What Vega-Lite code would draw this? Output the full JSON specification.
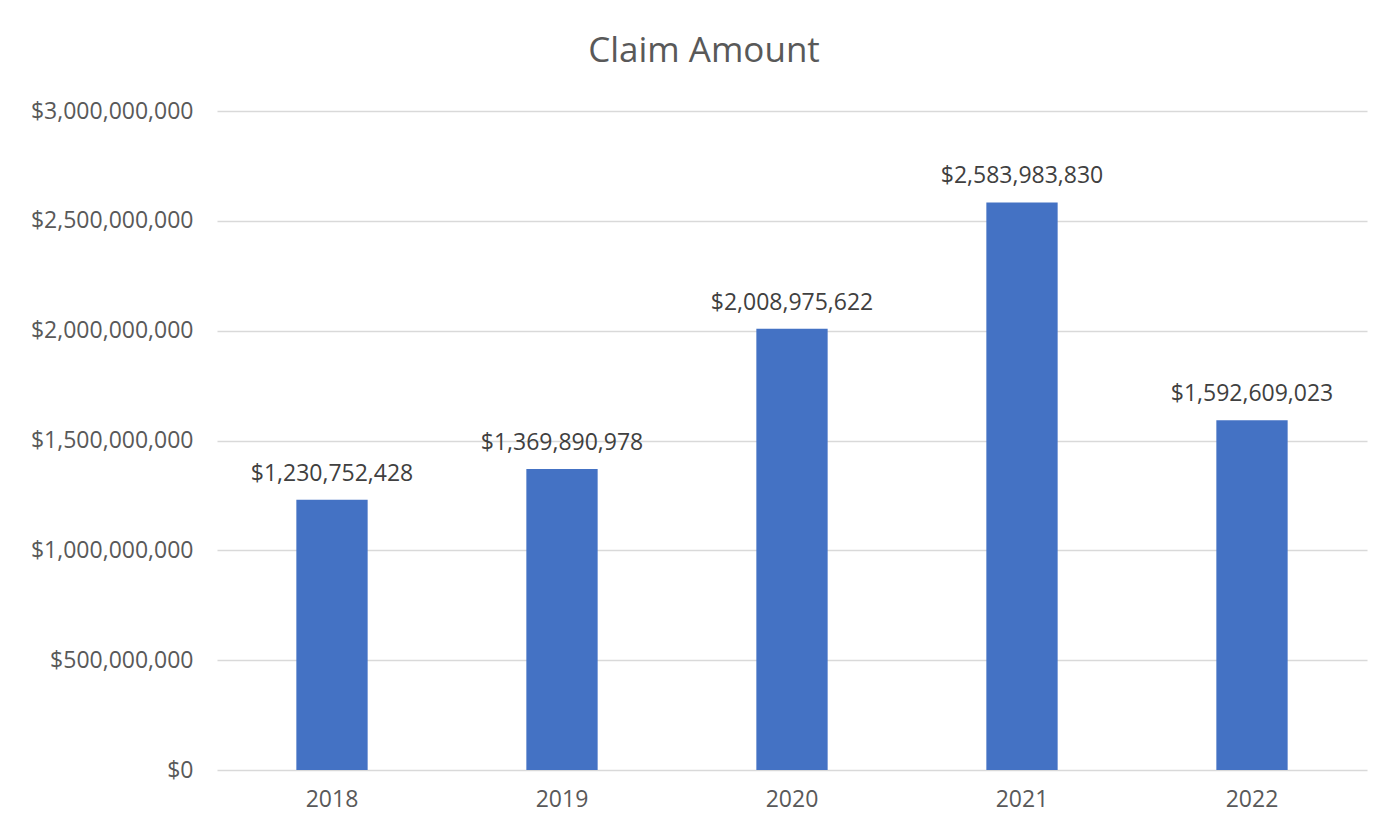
{
  "$schema": "https://vega.github.io/schema/vega-lite/v6.json",
  "autosize": {"type": "none"},
  "width": 1150,
  "height": 659,
  "padding": {"left": 217, "top": 111, "right": 14, "bottom": 65},
  "background": "white",
  "title": {
    "text": "Claim Amount",
    "anchor": "middle",
    "dx": -88,
    "offset": 3,
    "fontSize": 35,
    "font": "Open Sans",
    "fontWeight": "normal",
    "color": "#595959",
    "baseline": "alphabetic"
  },
  "data": {
    "values": [
      {"year": "2018", "amount": 1230752428},
      {"year": "2019", "amount": 1369890978},
      {"year": "2020", "amount": 2008975622},
      {"year": "2021", "amount": 2583983830},
      {"year": "2022", "amount": 1592609023}
    ]
  },
  "config": {
    "view": {"stroke": null},
    "font": "Open Sans"
  },
  "encoding": {
    "x": {
      "field": "year",
      "type": "nominal",
      "scale": {"paddingInner": 0.69, "paddingOuter": 0.345},
      "axis": {
        "title": null,
        "labelAngle": 0,
        "ticks": false,
        "domain": false,
        "labelFontSize": 23,
        "labelColor": "#595959",
        "labelPadding": 18,
        "labelFont": "Open Sans"
      }
    },
    "y": {
      "field": "amount",
      "type": "quantitative",
      "scale": {"domain": [0, 3000000000], "nice": false},
      "axis": {
        "title": null,
        "values": [0, 500000000, 1000000000, 1500000000, 2000000000, 2500000000, 3000000000],
        "format": "$,.0f",
        "ticks": false,
        "domain": false,
        "grid": true,
        "gridColor": "#d9d9d9",
        "gridWidth": 1.3,
        "labelFontSize": 23,
        "labelColor": "#595959",
        "labelPadding": 24,
        "labelFont": "Open Sans"
      }
    }
  },
  "layer": [
    {"mark": {"type": "bar", "color": "#4472C4"}},
    {
      "mark": {
        "type": "text",
        "baseline": "alphabetic",
        "dy": -19,
        "fontSize": 23,
        "color": "#404040",
        "font": "Open Sans"
      },
      "encoding": {
        "text": {"field": "amount", "type": "quantitative", "format": "$,.0f"}
      }
    }
  ]
}
